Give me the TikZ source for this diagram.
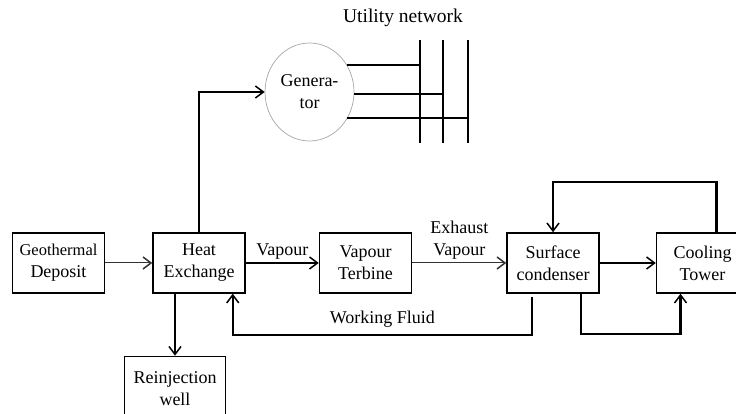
\documentclass[tikz,border=0pt]{standalone}
\usepackage{fontspec}
\setmainfont{Liberation Serif}
\usetikzlibrary{arrows.meta,calc,positioning,shapes.geometric}
\tikzset{
	block/.style={
		draw, rectangle, line width=1.5pt,
		minimum width=92pt, minimum height=60pt,
		inner sep=2pt, align=center, text=black,
		font=\fontsize{18}{22}\selectfont
	},
	gen_circle/.style={
		draw=black!35, ellipse, line width=0.7pt,
		minimum width=89pt, minimum height=98pt,
		inner sep=0pt, align=center,
		font=\fontsize{18}{22}\selectfont
	},
	label_text/.style={align=center, font=\fontsize{18}{22}\selectfont},
	flow/.style={-{Straight Barb[length=8pt,width=12pt,line width=1.5pt]}, line width=1.5pt},
	thin_flow/.style={flow, line width=1pt, draw=black!80},
	heavy_flow/.style={flow, line width=2.3pt},
	bus/.style={line width=2pt}
}
\begin{document}
\begin{tikzpicture}[x=1pt,y=1pt]
	\useasboundingbox (0,0) rectangle (736,414);
	\node[block] (geo) at (58.5,151) {\fontsize{16.5}{22}\selectfont Geothermal\\Deposit};
	\node[block, right=47pt of geo] (heat) {Heat\\Exchange};
	\node[block, right=73pt of heat] (terb) {Vapour\\Terbine};
	\node[block, right=94pt of terb] (surf) {Surface\\condenser};
	\node[block, right=56pt of surf] (cool) {Cooling\\Tower};
	\node[block, minimum width=101pt, minimum height=64pt, below=62pt of heat, xshift=-24pt] (reinj) {Reinjection\\well};
	\node[gen_circle] (gen) at (309.5,322) {Genera-\\tor};
	\node[label_text, font=\fontsize{19.5}{22}\selectfont] (utility) at (403,396) {Utility network};
	% bus bars of the utility network
	\coordinate (bus1) at (420,374);
	\coordinate (bus2) at (443,374);
	\coordinate (bus3) at (468,374);
	\foreach \b in {bus1,bus2,bus3}
		\draw[bus] (\b) -- ++(0,-103);
	\draw[bus] (gen.35) -- (gen.35 -| bus1);
	\draw[bus] (gen.-3) -- (gen.-3 -| bus2);
	\draw[bus] (gen.-35) -- (gen.-35 -| bus3);
	% main flow
	\draw[thin_flow] (geo) -- (heat);
	\draw[flow] (heat) -- (terb) node[midway, above, label_text] {Vapour};
	\draw[thin_flow] (terb) -- (surf) node[midway, above, label_text] {Exhaust\\Vapour};
	\draw[flow] (surf) -- (cool);
	\draw[flow] (heat.north) |- (gen.west);
	\draw[flow] (heat.south -| reinj.north) -- (reinj.north);
	% return loops
	\draw[heavy_flow] ($(surf.south)+(-21,-3)$) -- ++(0,-38) -| ($(heat.south east)+(-13,0)$)
		node[pos=0.25, above=3pt, label_text] {Working Fluid};
	\draw[heavy_flow] ($(surf.south)+(28,0)$) -- ++(0,-40) -| ($(cool.south)+(-22,0)$);
	\draw[heavy_flow] ($(cool.north)+(14,0)$) -- ++(0,50) -| (surf.north);
\end{tikzpicture}
\end{document}
